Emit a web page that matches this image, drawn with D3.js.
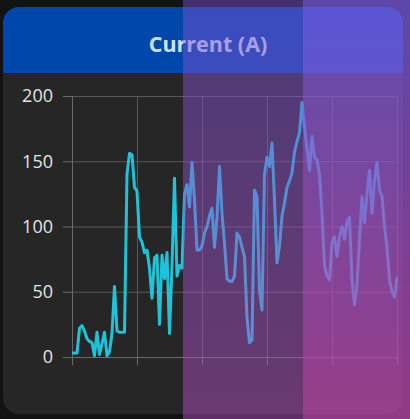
<!DOCTYPE html>
<html>
<head>
<meta charset="utf-8">
<script src="https://cdn.jsdelivr.net/npm/d3@7"></script>
<style>
  html, body { margin: 0; padding: 0; background: #131313; }
  svg { display: block; }
</style>
</head>
<body>
<div id="chart"></div>
<script>
// chart size
const width = 410
const height = 419

// data
const title = "Current (A)"
const amps = [
  3, 3, 3, 22, 24, 20, 14, 12, 11, 1,
  19, 2, 10, 19, 1, 4, 18, 54, 20, 19,
  19, 19, 140, 156, 155, 130, 127, 92, 88, 80,
  82, 68, 45, 76, 78, 25, 78, 60, 80, 18,
  70, 137, 62, 70, 68, 125, 132, 115, 149, 120,
  82, 82, 85, 95, 100, 108, 114, 84, 107, 146,
  110, 87, 60, 58, 58, 62, 95, 92, 84, 77,
  30, 11, 13, 128, 123, 51, 36, 140, 153, 146,
  164, 120, 72, 85, 108, 118, 130, 135, 141, 157,
  165, 172, 195, 176, 160, 143, 169, 153, 151, 140,
  110, 70, 62, 59, 88, 92, 77, 92, 100, 90,
  104, 107, 59, 40, 55, 90, 123, 103, 125, 143,
  110, 135, 149, 128, 123, 100, 84, 59, 50, 46,
  61
]
const yTicks = [0, 50, 100, 150, 200]
const xTicks = [0, 26, 52, 78, 104, 130]

const svg = d3.select("#chart")
  .append("svg")
  .attr("width", width)
  .attr("height", height)

const defs = svg.append("defs")

// card with header
svg.append("rect")
  .attr("x", 3).attr("y", 7)
  .attr("width", 400).attr("height", 407)
  .attr("rx", 16)
  .attr("fill", "#262626")

defs.append("clipPath").attr("id", "card-clip")
  .append("rect")
  .attr("x", 3).attr("y", 7)
  .attr("width", 400).attr("height", 407)
  .attr("rx", 16)

svg.append("rect")
  .attr("clip-path", "url(#card-clip)")
  .attr("x", 3).attr("y", 7)
  .attr("width", 400).attr("height", 66)
  .attr("fill", "#0047ab")

svg.append("text")
  .attr("x", 208)
  .attr("y", 52)
  .attr("text-anchor", "middle")
  .attr("font-family", "'Open Sans', 'Noto Sans', sans-serif")
  .attr("font-weight", 700)
  .attr("font-size", 21.5)
  .attr("fill", "#cfe2f5")
  .text(title)

// scales
const x = d3.scaleLinear()
  .domain([0, amps.length - 1])
  .range([72, 397])

const y = d3.scaleLinear()
  .domain([0, 200])
  .range([357, 96])

// grid lines
svg.append("g")
  .attr("transform", "translate(72,0)")
  .call(d3.axisLeft(y).tickValues(yTicks).tickSize(-325).tickFormat(""))
  .call(g => g.select(".domain").remove())
  .call(g => g.selectAll("line").attr("stroke", "#585858").attr("stroke-width", 1))

svg.append("g")
  .attr("transform", "translate(0,96)")
  .call(d3.axisBottom(x).tickValues(xTicks).tickSize(261).tickFormat(""))
  .call(g => g.select(".domain").remove())
  .call(g => g.selectAll("line").attr("stroke", "#585858").attr("stroke-width", 1))

// y axis
svg.append("g")
  .attr("transform", "translate(72,0)")
  .call(d3.axisLeft(y).tickValues(yTicks).tickSize(9).tickPadding(10))
  .call(g => g.select(".domain").attr("stroke", "#6a6a6a"))
  .call(g => g.selectAll("line").attr("stroke", "#6a6a6a"))
  .call(g => g.selectAll("text")
    .attr("fill", "#e4e4e4")
    .attr("font-size", 18)
    .attr("font-family", "'Open Sans', 'Noto Sans', sans-serif"))

// x axis (ticks only)
svg.append("g")
  .attr("transform", "translate(0,357)")
  .call(d3.axisBottom(x).tickValues(xTicks).tickSize(8).tickFormat(""))
  .call(g => g.select(".domain").attr("stroke", "#6a6a6a"))
  .call(g => g.selectAll("line").attr("stroke", "#6a6a6a"))

// the line
const line = d3.line()
  .x((d, i) => x(i))
  .y(d => y(d))

svg.append("path")
  .datum(amps)
  .attr("d", line)
  .attr("fill", "none")
  .attr("stroke", "#1fc3d9")
  .attr("stroke-width", 3)
  .attr("stroke-linejoin", "round")

// purple tinted bands over the right side
const g1 = defs.append("linearGradient")
  .attr("id", "band1").attr("x1", 0).attr("y1", 0).attr("x2", 0).attr("y2", 1)
g1.append("stop").attr("offset", "0%").attr("stop-color", "rgb(120,82,212)").attr("stop-opacity", 0.47)
g1.append("stop").attr("offset", "100%").attr("stop-color", "rgb(180,80,195)").attr("stop-opacity", 0.47)

const g2 = defs.append("linearGradient")
  .attr("id", "band2").attr("x1", 0).attr("y1", 0).attr("x2", 0).attr("y2", 1)
g2.append("stop").attr("offset", "0%").attr("stop-color", "rgb(122,92,228)").attr("stop-opacity", 0.72)
g2.append("stop").attr("offset", "100%").attr("stop-color", "rgb(196,72,175)").attr("stop-opacity", 0.72)

svg.append("rect")
  .attr("x", 183).attr("y", 0)
  .attr("width", 120).attr("height", height)
  .attr("fill", "url(#band1)")

svg.append("rect")
  .attr("x", 303).attr("y", 0)
  .attr("width", 107).attr("height", height)
  .attr("fill", "url(#band2)")
</script>
</body>
</html>
